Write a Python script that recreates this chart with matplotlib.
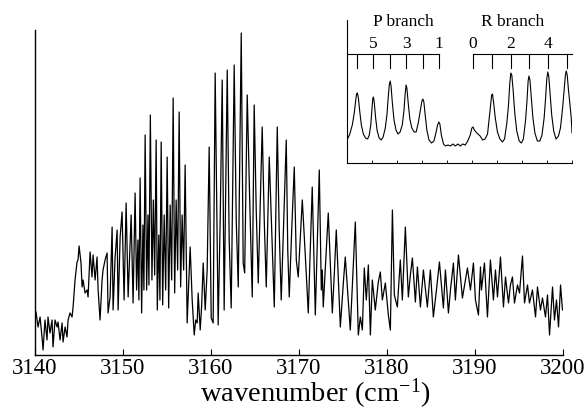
import matplotlib
matplotlib.use("Agg")
import matplotlib.pyplot as plt

plt.rcParams['font.family'] = ['Liberation Serif', 'DejaVu Serif']
plt.rcParams['mathtext.fontset'] = 'custom'
plt.rcParams['mathtext.rm'] = 'Liberation Serif'
plt.rcParams['mathtext.it'] = 'Liberation Serif:italic'

# ---- main spectrum (wavenumber, intensity arb. units) ----
seg_onset = [(3140.17, 43), (3140.40, 28), (3140.63, 38), (3140.85, 18), (3140.97, 5), (3141.19, 35),
             (3141.42, 15), (3141.53, 38), (3141.76, 22), (3141.99, 35), (3142.10, 8), (3142.33, 35),
             (3142.56, 28), (3142.67, 33), (3142.90, 15), (3143.13, 32), (3143.24, 13), (3143.47, 28),
             (3143.69, 18), (3143.81, 35), (3144.03, 42), (3144.26, 38), (3144.38, 48), (3144.60, 75),
             (3144.83, 93), (3144.94, 95), (3145.06, 109), (3145.28, 92), (3145.40, 68), (3145.51, 75),
             (3145.74, 62), (3145.97, 65), (3146.08, 58), (3146.31, 103), (3146.53, 78), (3146.65, 100),
             (3146.88, 75), (3147.10, 98), (3147.22, 65), (3147.44, 35), (3147.67, 75), (3147.78, 85),
             (3148.01, 95), (3148.24, 102), (3148.35, 42), (3148.58, 58), (3148.81, 128), (3148.92, 45),
             (3149.15, 98), (3149.38, 125), (3149.49, 45), (3149.72, 118)]
seg_p = [(3149.94, 143), (3150.17, 55), (3150.40, 152), (3150.63, 58), (3150.97, 140), (3151.19, 52),
         (3151.42, 162), (3151.59, 65), (3151.74, 115), (3151.85, 55), (3151.99, 177), (3152.16, 42),
         (3152.31, 130), (3152.42, 65), (3152.56, 220), (3152.73, 65), (3152.88, 140), (3152.99, 70),
         (3153.15, 240), (3153.33, 75), (3153.49, 155), (3153.64, 80), (3153.81, 215), (3153.94, 45),
         (3154.11, 120), (3154.24, 55), (3154.38, 213), (3154.55, 50), (3154.72, 140), (3154.89, 65),
         (3155.06, 198), (3155.23, 47), (3155.40, 150), (3155.57, 75), (3155.74, 257), (3155.91, 62),
         (3156.08, 155), (3156.25, 85), (3156.42, 243), (3156.59, 68), (3156.76, 140), (3156.93, 85),
         (3157.10, 190), (3157.33, 32), (3157.67, 108), (3157.90, 55), (3158.13, 20), (3158.30, 35),
         (3158.47, 32), (3158.58, 62), (3158.81, 25), (3158.98, 50), (3159.15, 92), (3159.38, 45),
         (3159.60, 85), (3159.83, 208), (3160.06, 37), (3160.28, 32)]
seg_r = [(3160.51, 282), (3160.85, 30), (3161.08, 135), (3161.31, 275), (3161.53, 45), (3161.88, 285),
         (3162.10, 115), (3162.33, 47), (3162.67, 290), (3162.90, 135), (3163.13, 68), (3163.47, 322),
         (3163.69, 92), (3163.86, 82), (3164.15, 260), (3164.43, 155), (3164.72, 58), (3164.94, 250),
         (3165.17, 145), (3165.40, 72), (3165.85, 228), (3166.08, 135), (3166.31, 68), (3166.65, 198),
         (3166.93, 125), (3167.22, 48), (3167.56, 228), (3167.78, 125), (3168.01, 55), (3168.58, 215),
         (3168.75, 105), (3168.92, 58), (3169.20, 125), (3169.49, 188), (3169.72, 95), (3169.94, 78),
         (3170.40, 155), (3170.74, 100), (3171.08, 42), (3171.53, 168), (3171.88, 40), (3172.33, 185),
         (3172.56, 65), (3172.67, 85), (3172.78, 48), (3173.35, 142), (3173.81, 42), (3174.03, 80),
         (3174.26, 125), (3174.72, 28), (3175.06, 72), (3175.28, 98), (3175.85, 25), (3176.42, 133),
         (3176.76, 20), (3176.99, 38), (3177.22, 25), (3177.44, 87), (3177.67, 55), (3177.90, 90),
         (3178.13, 20), (3178.35, 75), (3178.69, 45), (3179.03, 73), (3179.26, 83), (3179.49, 55),
         (3179.83, 72), (3180.17, 40), (3180.40, 25)]
seg_tail = [(3180.63, 145), (3180.85, 60), (3181.19, 48), (3181.53, 95), (3181.76, 55), (3182.10, 128),
            (3182.44, 58), (3182.67, 80), (3182.90, 97), (3183.24, 53), (3183.47, 88), (3183.81, 48),
            (3184.15, 85), (3184.60, 48), (3184.94, 85), (3185.28, 38), (3185.63, 65), (3185.97, 93),
            (3186.42, 47), (3186.65, 85), (3186.99, 42), (3187.22, 65), (3187.56, 92), (3187.78, 55),
            (3188.13, 100), (3188.58, 57), (3188.92, 75), (3189.15, 87), (3189.49, 65), (3189.83, 92),
            (3190.06, 55), (3190.40, 40), (3190.63, 88), (3190.74, 65), (3191.08, 92), (3191.42, 38),
            (3191.76, 95), (3192.10, 55), (3192.33, 85), (3192.56, 58), (3192.90, 98), (3193.24, 48),
            (3193.47, 78), (3193.81, 52), (3194.03, 70), (3194.26, 78), (3194.49, 52), (3194.83, 70),
            (3195.06, 62), (3195.40, 99), (3195.63, 52), (3195.97, 70), (3196.19, 52), (3196.53, 65),
            (3196.88, 38), (3197.10, 68), (3197.44, 45), (3197.67, 57), (3198.01, 38), (3198.24, 60),
            (3198.47, 20), (3198.81, 68), (3199.03, 35), (3199.26, 55), (3199.49, 28), (3199.72, 70),
            (3199.94, 45)]

x_ticks = [3140, 3150, 3160, 3170, 3180, 3190, 3200]
x_label = "wavenumber (cm$^{-1}$)"

# ---- inset spectrum (relative units) ----
inset_trace = [(0.03, 23), (0.20, 29), (0.35, 38), (0.47, 50), (0.56, 63), (0.61, 69), (0.66, 70), (0.72, 65),
               (0.80, 52), (0.90, 38), (1.02, 29), (1.15, 25), (1.28, 24),
               (1.38, 28), (1.47, 38), (1.54, 54), (1.59, 64), (1.63, 66), (1.68, 61), (1.76, 46),
               (1.86, 32), (1.98, 25), (2.10, 23), (2.22, 26),
               (2.35, 35), (2.45, 48), (2.54, 68), (2.60, 79), (2.65, 82), (2.70, 77), (2.78, 60),
               (2.88, 43), (3.00, 33), (3.12, 29), (3.25, 31),
               (3.38, 38), (3.48, 52), (3.56, 70), (3.61, 78), (3.66, 75), (3.74, 60), (3.84, 44),
               (3.96, 35), (4.10, 31), (4.22, 31),
               (4.35, 40), (4.47, 52), (4.57, 62), (4.63, 64), (4.69, 61), (4.77, 48), (4.87, 33),
               (5.00, 23), (5.15, 20), (5.30, 22),
               (5.42, 30), (5.52, 38), (5.60, 41), (5.66, 39), (5.75, 28), (5.88, 19), (6.00, 17),
               (6.15, 18), (6.30, 17), (6.45, 19), (6.60, 17), (6.75, 19), (6.90, 17), (7.05, 19),
               (7.20, 18), (7.35, 22),
               (7.50, 28), (7.60, 35), (7.67, 36), (7.75, 33), (7.90, 30), (8.10, 27), (8.25, 23),
               (8.40, 24), (8.55, 29),
               (8.65, 45), (8.74, 60), (8.80, 68), (8.85, 69), (8.92, 60), (9.02, 45), (9.15, 31),
               (9.30, 24), (9.45, 21), (9.58, 24),
               (9.72, 40), (9.82, 58), (9.90, 80), (9.96, 90), (10.02, 88), (10.10, 73), (10.20, 50),
               (10.32, 32), (10.47, 22), (10.60, 20), (10.72, 24),
               (10.85, 42), (10.94, 62), (11.01, 82), (11.06, 87), (11.12, 83), (11.20, 66), (11.30, 45),
               (11.42, 30), (11.57, 22), (11.72, 22), (11.85, 28),
               (11.98, 45), (12.07, 65), (12.14, 84), (12.20, 91), (12.26, 87), (12.34, 70), (12.44, 48),
               (12.56, 32), (12.70, 24), (12.85, 27), (12.97, 35),
               (13.10, 55), (13.20, 75), (13.27, 88), (13.32, 92), (13.38, 88), (13.45, 74), (13.55, 57),
               (13.62, 46), (13.67, 30)]
p_lines = [0.64, 1.61, 2.64, 3.61, 4.64, 5.61]
r_lines = [7.67, 8.82, 9.97, 11.06, 12.21, 13.36]
p_labels = {1.61: "5", 3.61: "3", 5.61: "1"}
r_labels = {7.67: "0", 9.97: "2", 12.21: "4"}
inset_ticks = [1.55, 3.06, 4.58, 6.09, 7.61, 9.12, 10.64, 12.15, 13.67]

fig = plt.figure(figsize=(5.88, 4.11), dpi=100)
ax = fig.add_axes([0.0587, 0.1363, 0.8988, 0.7907])
trace = seg_onset + seg_p + seg_r + seg_tail
ax.plot([p[0] for p in trace], [p[1] for p in trace], color='black', lw=0.9)
ax.set_xlim(3140, 3200)
ax.set_ylim(0, 325)
for s in ['top', 'right']:
    ax.spines[s].set_visible(False)
for s in ['left', 'bottom']:
    ax.spines[s].set_linewidth(1.0)
ax.set_yticks([])
ax.set_xticks(x_ticks)
ax.set_xticklabels([str(t) for t in x_ticks], fontsize=16.5)
ax.tick_params(axis='x', direction='in', length=4, width=0.8, pad=2)
ax.set_xlabel(x_label, fontsize=20.5)
ax.xaxis.set_label_coords(0.532, -0.0677)

# inset
ia = fig.add_axes([0.5893, 0.6034, 0.3835, 0.3479])
ia.plot([p[0] for p in inset_trace], [p[1] for p in inset_trace], color='black', lw=0.8)
ia.set_xlim(0, 13.67)
ia.set_ylim(0, 143)
for s in ['top', 'right']:
    ia.spines[s].set_visible(False)
ia.spines['left'].set_linewidth(0.8)
ia.spines['bottom'].set_linewidth(0.8)
ia.set_yticks([])
ia.set_xticks(inset_ticks)
ia.set_xticklabels([])
ia.tick_params(axis='x', direction='in', length=2, width=0.6)
ia.patch.set_alpha(0)

bar_y, tick_y = 109, 95
ia.plot([0, p_lines[-1]], [bar_y, bar_y], color='black', lw=0.8, clip_on=False)
ia.plot([r_lines[0], 13.67], [bar_y, bar_y], color='black', lw=0.8, clip_on=False)
for xl in p_lines + r_lines:
    ia.plot([xl, xl], [bar_y, tick_y], color='black', lw=0.8, clip_on=False)
for xl, lab in list(p_labels.items()) + list(r_labels.items()):
    ia.text(xl, 119, lab, ha='center', va='center', fontsize=12.5)
ia.text(3.45, 141, "P branch", ha='center', va='center', fontsize=12.5)
ia.text(10.05, 141, "R branch", ha='center', va='center', fontsize=12.5)

fig.savefig("out.png", dpi=100)
